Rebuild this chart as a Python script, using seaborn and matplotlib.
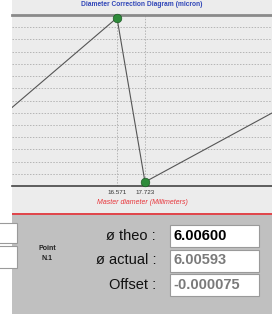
import matplotlib
matplotlib.use("Agg")
import matplotlib.pyplot as plt
from matplotlib.patches import Rectangle
import seaborn as sns
import pandas as pd

sns.set_theme(style="white")
plt.rcParams['font.family'] = ['Liberation Sans', 'DejaVu Sans']

# Correction curve (master diameter mm vs correction, grid units)
diam_mm = [11.0, 16.571, 17.723, 24.5]
correction = [4.3, 13.77, 0.33, 7.65]
marked_mm = [16.571, 17.723]
marked_corr = [13.77, 0.33]
tick_labels = ["16.571", "17.723"]

field_labels = ["ø theo :", "ø actual :", "Offset :"]
field_values = ["6.00600", "6.00593", "-0.000075"]
value_colors = ["#000000", "#7a7a7a", "#7a7a7a"]

W, H = 272, 314
fig = plt.figure(figsize=(W / 100, H / 100), dpi=100)
fig.patch.set_facecolor("white")

def px(x, y, w, h):
    # pixel box (top-left origin) -> figure fraction rect
    return (x / W, 1 - (y + h) / H, w / W, h / H)

def rect(x, y, w, h, z=-5, **kw):
    l, b, ww, hh = px(x, y, w, h)
    fig.patches.append(Rectangle((l, b), ww, hh, transform=fig.transFigure,
                                 zorder=z, **kw))

# background panels
rect(12, 0, 260, 213, facecolor="#ececec", edgecolor="none")
rect(12, 213, 260, 2, facecolor="#e0474c", edgecolor="none")
rect(12, 215, 260, 99, facecolor="#c0c0c0", edgecolor="none")
rect(-2, 223, 19, 20, z=1, facecolor="white", edgecolor="#9a9a9a", lw=0.8)
rect(-2, 246, 19, 22, z=1, facecolor="white", edgecolor="#9a9a9a", lw=0.8)

# chart
ax = fig.add_axes(px(12, 15, 260, 171))
ax.set_facecolor("#ececec")
df = pd.DataFrame({"mm": diam_mm, "corr": correction})
sns.lineplot(data=df, x="mm", y="corr", ax=ax, color="#555555", lw=0.8,
             sort=False, estimator=None)
sns.scatterplot(x=marked_mm, y=marked_corr, ax=ax, color="#2e8b3a", s=38,
                edgecolor="#1c5a24", linewidth=0.5, zorder=5, clip_on=False)

ax.set_xlim(12.25, 22.95)
ax.set_ylim(0, 14)
ax.set_yticks(range(0, 15))
ax.set_yticklabels([])
ax.tick_params(axis="y", length=0)
ax.set_xticks(marked_mm)
ax.set_xticklabels(tick_labels, fontsize=4.5, color="#333333")
ax.tick_params(axis="x", length=0, pad=3)
ax.grid(True, ls=(0, (1.5, 1.5)), color="#b5b5b5", lw=0.7)
for s in ["left", "right"]:
    ax.spines[s].set_visible(False)
ax.spines["top"].set_color("#8a8a8a")
ax.spines["top"].set_linewidth(2)
ax.spines["bottom"].set_color("#444444")
ax.spines["bottom"].set_linewidth(1.2)
ax.set_xlabel("Master diameter (Millimeters)", fontsize=5, color="#e8343a",
              style="italic", labelpad=3)
ax.set_ylabel("")

fig.text(142 / W, 1 - 5 / H, "Diameter Correction Diagram (micron)",
         fontsize=4.8, color="#3046b8", weight="bold", ha="center", va="center")

# read-out panel
fig.text(47 / W, 1 - 249 / H, "Point", fontsize=5, weight="bold",
         ha="center", va="center", color="#222222")
fig.text(47 / W, 1 - 259 / H, "N.1", fontsize=5, weight="bold",
         ha="center", va="center", color="#222222")
for i, (lab, val, col) in enumerate(zip(field_labels, field_values, value_colors)):
    yc = 236 + i * 24.5
    fig.text(156 / W, 1 - yc / H, lab, fontsize=10.5, ha="right", va="center",
             color="#111111")
    rect(170, yc - 11, 89, 22, z=1, facecolor="white", edgecolor="#9a9a9a", lw=0.8)
    fig.text(173 / W, 1 - yc / H, val, fontsize=10.5, weight="bold",
             ha="left", va="center", color=col)

fig.savefig("out.png", dpi=100)
